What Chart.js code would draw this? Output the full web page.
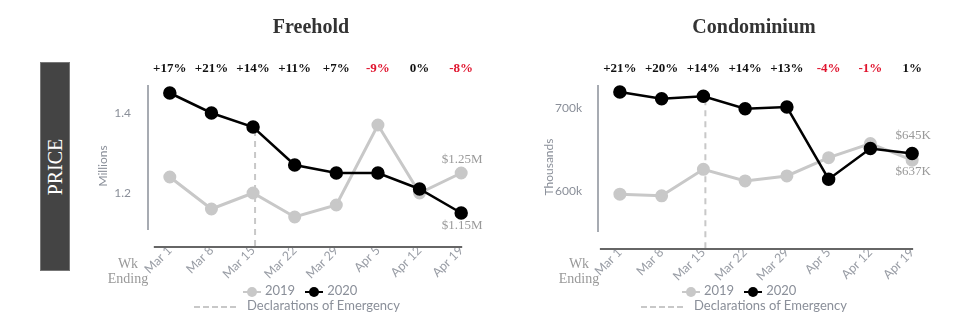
<!DOCTYPE html>
<html>
<head>
<meta charset="utf-8">
<script src="https://cdn.jsdelivr.net/npm/chart.js@4.4.1/dist/chart.umd.min.js"></script>
<style>
  html, body { margin: 0; padding: 0; background: #fff; }
  #wrap { position: relative; width: 980px; height: 332px; overflow: hidden; }
  canvas { position: absolute; top: 0; }
  .title { position: absolute; top: 15px; font: bold 20px "Liberation Serif", serif; color: #333; transform: translateX(-50%); white-space: nowrap; }
  .price { position: absolute; left: 40px; top: 62px; width: 30px; height: 209px; background: #444; border: 1px solid #777; box-sizing: border-box; }
  .price span { position: absolute; left: 50%; top: 50%; transform: translate(-50%, -50%) rotate(-90deg); color: #fff; font: 20px "Liberation Serif", serif; white-space: nowrap; }
  .wk { position: absolute; top: 256px; font: 14px "Liberation Serif", serif; color: #999; text-align: center; line-height: 15px; width: 60px; }
  .legend { position: absolute; top: 283px; font: 13px Lato, sans-serif; color: #8a8f99; white-space: nowrap; }
  .row { height: 15px; line-height: 15px; position: relative; }
  .mk { display: inline-block; position: relative; width: 18px; height: 10px; vertical-align: middle; margin-right: 4px; }
  .mk i { position: absolute; left: 0; top: 4px; width: 18px; height: 2.5px; }
  .mk b { position: absolute; left: 4px; top: 0; width: 10px; height: 10px; border-radius: 50%; }
  .dash { display: inline-block; width: 42px; border-top: 2px dashed #c8c8c8; vertical-align: middle; margin-right: 11px; }
</style>
</head>
<body>
<div id="wrap">
  <canvas id="c1" width="490" height="332" style="left:0;width:490px;height:332px"></canvas>
  <canvas id="c2" width="490" height="332" style="left:490px;width:490px;height:332px"></canvas>
  <div class="price"><span>PRICE</span></div>
  <div class="title" style="left:311px">Freehold</div>
  <div class="title" style="left:754px">Condominium</div>
  <div class="wk" style="left:98px">Wk<br>Ending</div>
  <div class="wk" style="left:549px">Wk<br>Ending</div>
  <div class="legend" style="left:243px">
    <div class="row"><span class="mk"><i style="background:#c8c8c8"></i><b style="background:#c8c8c8"></b></span>2019&nbsp;&nbsp;&nbsp;<span class="mk"><i style="background:#000"></i><b style="background:#000"></b></span>2020</div>
  </div>
  <div class="legend" style="left:194px;top:298px"><div class="row"><span class="dash"></span>Declarations of Emergency</div></div>
  <div class="legend" style="left:682px">
    <div class="row"><span class="mk"><i style="background:#c8c8c8"></i><b style="background:#c8c8c8"></b></span>2019&nbsp;&nbsp;&nbsp;<span class="mk"><i style="background:#000"></i><b style="background:#000"></b></span>2020</div>
  </div>
  <div class="legend" style="left:641px;top:298px"><div class="row"><span class="dash"></span>Declarations of Emergency</div></div>
</div>
<script>
// ---- data ----
const weeks = ["Mar 1", "Mar 8", "Mar 15", "Mar 22", "Mar 29", "Apr 5", "Apr 12", "Apr 19"];

const freehold2019 = [1.24, 1.16, 1.20, 1.14, 1.17, 1.37, 1.20, 1.25];   // millions
const freehold2020 = [1.45, 1.40, 1.365, 1.27, 1.25, 1.25, 1.21, 1.15];
const freeholdPct = ["+17%", "+21%", "+14%", "+11%", "+7%", "-9%", "0%", "-8%"];
const freeholdTicks = [1.2, 1.4];
const freeholdTickLabels = ["1.2", "1.4"];
const freeholdEndLabels = ["$1.25M", "$1.15M"];   // [2019, 2020]

const condo2019 = [596, 594, 626, 612, 618, 640, 657, 637];   // thousands
const condo2020 = [719, 711, 714, 699, 701, 614, 651, 645];
const condoPct = ["+21%", "+20%", "+14%", "+14%", "+13%", "-4%", "-1%", "1%"];
const condoTicks = [600, 700];
const condoTickLabels = ["600k", "700k"];
const condoEndLabels = ["$637K", "$645K"];        // [2019, 2020]

const emergencyIndex = 2;   // Mar 15

// ---- drawing ----
const GRAY = "#c8c8c8";
const AXIS_TXT = "#8a8f99";

function makeChart(id, cfg) {
  const overlay = {
    id: "overlay",
    afterDraw(chart) {
      const ctx = chart.ctx, x = chart.scales.x, y = chart.scales.y, a = chart.chartArea;
      ctx.save();
      // y axis line
      ctx.strokeStyle = "#8a8f99"; ctx.lineWidth = 1.5;
      ctx.beginPath(); ctx.moveTo(a.left - 1, a.top); ctx.lineTo(a.left - 1, a.bottom - 17); ctx.stroke();
      // x axis line
      ctx.strokeStyle = "#666"; ctx.lineWidth = 2;
      ctx.beginPath();
      ctx.moveTo(x.getPixelForValue(0) - cfg.xStartOff, a.bottom);
      ctx.lineTo(x.getPixelForValue(weeks.length - 1) + 1, a.bottom);
      ctx.stroke();
      // percentages
      ctx.font = "bold 13px 'Liberation Serif', serif";
      ctx.textAlign = "center"; ctx.textBaseline = "middle";
      cfg.pct.forEach((t, i) => {
        ctx.fillStyle = t.startsWith("-") ? "#e0142e" : "#111";
        ctx.fillText(t, x.getPixelForValue(i), 69);
      });
      // end labels
      ctx.font = "13px 'Liberation Serif', serif";
      ctx.fillStyle = "#999";
      const last = weeks.length - 1, lx = x.getPixelForValue(last);
      ctx.fillText(cfg.endLabels[0], lx + 1, y.getPixelForValue(cfg.d2019[last]) + cfg.off2019);
      ctx.fillText(cfg.endLabels[1], lx + 1, y.getPixelForValue(cfg.d2020[last]) + cfg.off2020);
      ctx.restore();
    }
  };
  const emergency = {
    id: "emergency",
    beforeDatasetsDraw(chart) {
      const ctx = chart.ctx, x = chart.scales.x, y = chart.scales.y, a = chart.chartArea;
      const px = x.getPixelForValue(emergencyIndex) + 2;
      ctx.save();
      ctx.strokeStyle = GRAY; ctx.lineWidth = 2; ctx.setLineDash([6, 5]);
      ctx.beginPath();
      ctx.moveTo(px, y.getPixelForValue(cfg.d2020[emergencyIndex]) + 3);
      ctx.lineTo(px, a.bottom + 2);
      ctx.stroke();
      ctx.restore();
    }
  };
  return new Chart(document.getElementById(id), {
    type: "line",
    data: {
      labels: weeks,
      datasets: [
        { label: "2020", data: cfg.d2020, borderColor: "#000", backgroundColor: "#000",
          borderWidth: 2.5, pointRadius: 5.5, pointHoverRadius: 5.5, tension: 0, order: 1 },
        { label: "2019", data: cfg.d2019, borderColor: GRAY, backgroundColor: GRAY,
          borderWidth: 3, pointRadius: 5, pointHoverRadius: 5, tension: 0, order: 2 }
      ]
    },
    options: {
      responsive: false, animation: false, devicePixelRatio: 1,
      clip: false,
      layout: { padding: cfg.padding },
      plugins: { legend: { display: false }, tooltip: { enabled: false } },
      scales: {
        x: {
          offset: true,
          grid: { display: false, drawTicks: false },
          border: { display: false },
          ticks: { color: "#9a9ea6", font: { family: "Lato", size: 12.5 }, maxRotation: 45, minRotation: 45, padding: -4, autoSkip: false },
          afterFit(s) { s.height = 40; }
        },
        y: {
          min: cfg.min, max: cfg.max,
          grid: { display: false, drawTicks: false },
          border: { display: false },
          title: { display: true, text: cfg.yTitle, color: AXIS_TXT, font: { family: "Lato", size: 12 }, padding: 0 },
          ticks: { color: AXIS_TXT, font: { family: "Lato", size: 12 }, padding: cfg.tickPad,
                   callback: (v) => { const k = cfg.ticks.indexOf(v); return k >= 0 ? cfg.tickLabels[k] : ""; } },
          afterBuildTicks(s) { s.ticks = cfg.ticks.map(v => ({ value: v })); },
          afterFit(s) { s.width = cfg.yWidth; }
        }
      }
    },
    plugins: [emergency, overlay]
  });
}

makeChart("c1", {
  d2019: freehold2019, d2020: freehold2020, pct: freeholdPct,
  ticks: freeholdTicks, tickLabels: freeholdTickLabels, endLabels: freeholdEndLabels,
  min: 1.065, max: 1.47, yTitle: "Millions",
  padding: { left: 96, top: 85, right: 3, bottom: 45 }, yWidth: 53, tickPad: 18,
  off2019: -13, off2020: 13, xStartOff: 16
});
makeChart("c2", {
  d2019: condo2019, d2020: condo2020, pct: condoPct,
  ticks: condoTicks, tickLabels: condoTickLabels, endLabels: condoEndLabels,
  min: 530, max: 727.5, yTitle: "Thousands",
  padding: { left: 52, top: 85, right: 47, bottom: 43 }, yWidth: 57, tickPad: 17,
  off2019: 11, off2020: -18, xStartOff: 20
});
</script>
</body>
</html>
